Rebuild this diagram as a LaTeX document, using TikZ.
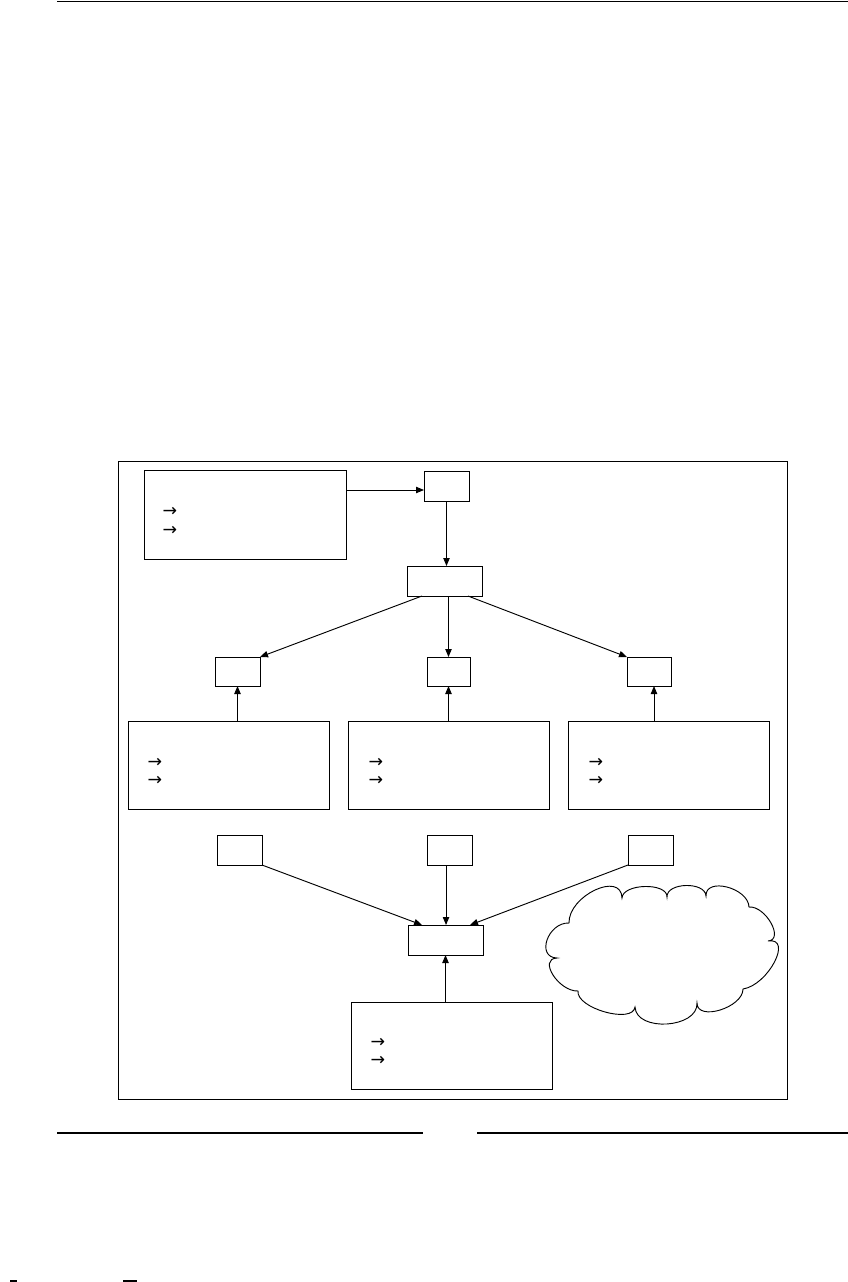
\documentclass[tikz,border=0pt]{standalone}
\usepackage{fontspec}
\newfontfamily\djv{DejaVu Sans}
\usetikzlibrary{arrows.meta,calc}
\newcommand\mkbox[5]{%
  \pgfmathsetmacro\mybw{(#4-#2)*0.75}%
  \pgfmathsetmacro\mybh{(#5-#3)*0.75}%
  \node[box, minimum width=\mybw pt, minimum height=\mybh pt] (#1) at ({(#2+#4)/2},{(#3+#5)/2}) {};}
\begin{document}
\begin{tikzpicture}[x=0.75pt,y=-0.75pt,
  box/.style={draw, line width=0.75pt, inner sep=0pt, outer sep=0pt},
  conn/.style={line width=0.7pt, -{Triangle[length=6pt,width=4.8pt]}},
  arr/.style={inner sep=0pt, font=\djv\fontsize{13}{14}\selectfont},
  rule/.style={line width=1pt}]
\useasboundingbox (0,0) rectangle (848,1282);
% page rules
\coordinate (r0a) at (57,1.2); \coordinate (r0b) at (848,1.2);
\draw[rule] (r0a) -- (r0b);
\coordinate (r1a) at (57,1133); \coordinate (r1b) at (423,1133);
\coordinate (r2a) at (477,1133); \coordinate (r2b) at (848,1133);
\draw[rule] (r1a) -- (r1b);
\draw[rule] (r2a) -- (r2b);
\fill (10,1279.5) rectangle (17,1282);
\fill (123,1279.5) rectangle (137,1282);
% frame
\draw[line width=0.75pt] (118,461) rectangle (787,1099);
% boxes
\mkbox{tl}{144}{470}{346}{559}
\mkbox{s0}{424}{471}{469}{501}
\mkbox{b2}{407}{566}{482}{596}
\mkbox{s1}{215}{657}{260}{686}
\mkbox{s2}{427}{657}{470}{686}
\mkbox{s3}{627}{657}{671}{686}
\mkbox{L}{128}{721}{329}{809}
\mkbox{M}{348}{721}{549}{809}
\mkbox{R}{568}{721}{769}{809}
\mkbox{s4}{217}{835}{262}{865}
\mkbox{s5}{427}{835}{472}{865}
\mkbox{s6}{628}{835}{673}{865}
\mkbox{c}{408}{925}{483}{955}
\mkbox{bb}{351}{1002}{552}{1089}
% arrow glyphs
\node[arr] (tla) at (170,512) {→};
\node[arr] (tlb) at (170,531) {→};
\node[arr] (La) at (155,763) {→};
\node[arr] (Lb) at (155,781) {→};
\node[arr] (Ma) at (376,763) {→};
\node[arr] (Mb) at (376,781) {→};
\node[arr] (Ra) at (596,763) {→};
\node[arr] (Rb) at (596,781) {→};
\node[arr] (bba) at (378,1043) {→};
\node[arr] (bbb) at (378,1061) {→};
% connectors
\coordinate (s0in) at ($(s0.north west)!0.633!(s0.south west)$);
\draw[conn] (tl.east |- s0in) -- (s0in);
\draw[conn] (s0.south) -- (s0.south |- b2.north);
\draw[conn] ($(b2.south west)!0.2!(b2.south east)$) -- (s1.north east);
\draw[conn] (b2.south -| s2.north) -- (s2.north);
\draw[conn] ($(b2.south west)!0.813!(b2.south east)$) -- (s3.north west);
\draw[conn] (s1.south |- L.north) -- (s1.south);
\draw[conn] (s2.south |- M.north) -- (s2.south);
\coordinate (s3b) at ([xshift=3.75pt]s3.south);
\draw[conn] (s3b |- R.north) -- (s3b);
\draw[conn] (s4.south east) -- ($(c.north west)!0.187!(c.north east)$);
\coordinate (s5b) at ([xshift=-2.6pt]s5.south);
\draw[conn] (s5b) -- (s5b |- c.north);
\draw[conn] (s6.south west) -- ($(c.north west)!0.827!(c.north east)$);
\draw[conn] (c.south |- bb.north) -- (c.south);
% cloud
\draw[line width=0.7pt]
  (569,923) .. controls (568.3,895.7) and (621.3,870.7) .. (622,898)
  .. controls (622.7,883.3) and (667.7,882.3) .. (667,897)
  .. controls (666.3,882.3) and (705.3,881.3) .. (706,896)
  .. controls (705.3,876.7) and (748.3,887.7) .. (749,907)
  .. controls (765.7,905.7) and (784.7,939.7) .. (768,941)
  .. controls (793.3,937) and (768.3,985) .. (743,989)
  .. controls (743,1007.7) and (697,1021.7) .. (697,1003)
  .. controls (698.3,1028.3) and (636.3,1032.3) .. (635,1007)
  .. controls (633,1024.3) and (576,1008.3) .. (578,991)
  .. controls (558.7,991.7) and (537.7,958.7) .. (557,958)
  .. controls (535.7,957.3) and (547.7,922.3) .. (569,923) -- cycle;
\end{tikzpicture}
\end{document}
